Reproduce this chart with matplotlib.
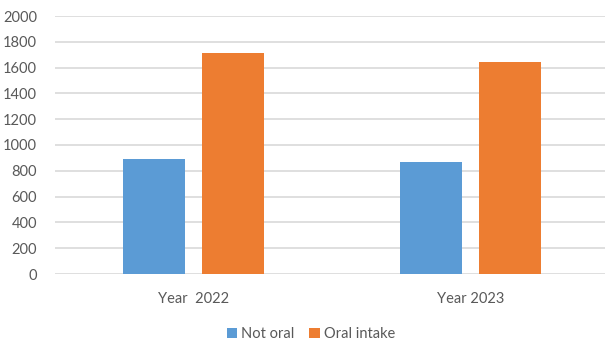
import matplotlib
matplotlib.use("Agg")
import matplotlib.pyplot as plt
import numpy as np
from matplotlib.patches import Patch

categories = ["Year  2022", "Year 2023"]
series_names = ["Not oral", "Oral intake"]
not_oral = [893, 868]
oral_intake = [1712, 1640]
y_ticks = [0, 200, 400, 600, 800, 1000, 1200, 1400, 1600, 1800, 2000]

colors = ["#5B9BD5", "#ED7D31"]
text_color = "#595959"
plt.rcParams["font.family"] = ["Lato", "DejaVu Sans"]

W, H = 605, 342
fig = plt.figure(figsize=(W / 100, H / 100), dpi=100)
ax = fig.add_axes([55 / W, 68 / H, 554 / W, 258 / H])

x = np.arange(len(categories))
bw = 0.224
off = 0.1426
ax.bar(x - off, not_oral, width=bw, color=colors[0], zorder=3)
ax.bar(x + off, oral_intake, width=bw, color=colors[1], zorder=3)

ax.set_xlim(-0.5, 1.5)
ax.set_ylim(0, 2000)
ax.set_yticks(y_ticks)
ax.set_yticklabels([str(v) for v in y_ticks])
ax.grid(axis="y", color="#D9D9D9", linewidth=1.2, zorder=0)
ax.set_xticks(x)
ax.set_xticklabels(categories)
for s in ax.spines.values():
    s.set_visible(False)
ax.tick_params(axis="both", length=0, colors=text_color, labelsize=10.5)
ax.tick_params(axis="y", pad=13)
ax.tick_params(axis="x", pad=13)

handles = [Patch(facecolor=c, label=n) for c, n in zip(colors, series_names)]
fig.legend(handles=handles, loc="center", bbox_to_anchor=(311 / W, 1 - 334 / H),
           ncol=2, frameon=False, fontsize=10.5, handlelength=0.7, handleheight=0.7,
           handletextpad=0.3, columnspacing=1.0, labelcolor=text_color)

fig.savefig("out.png", dpi=100, facecolor="white")
